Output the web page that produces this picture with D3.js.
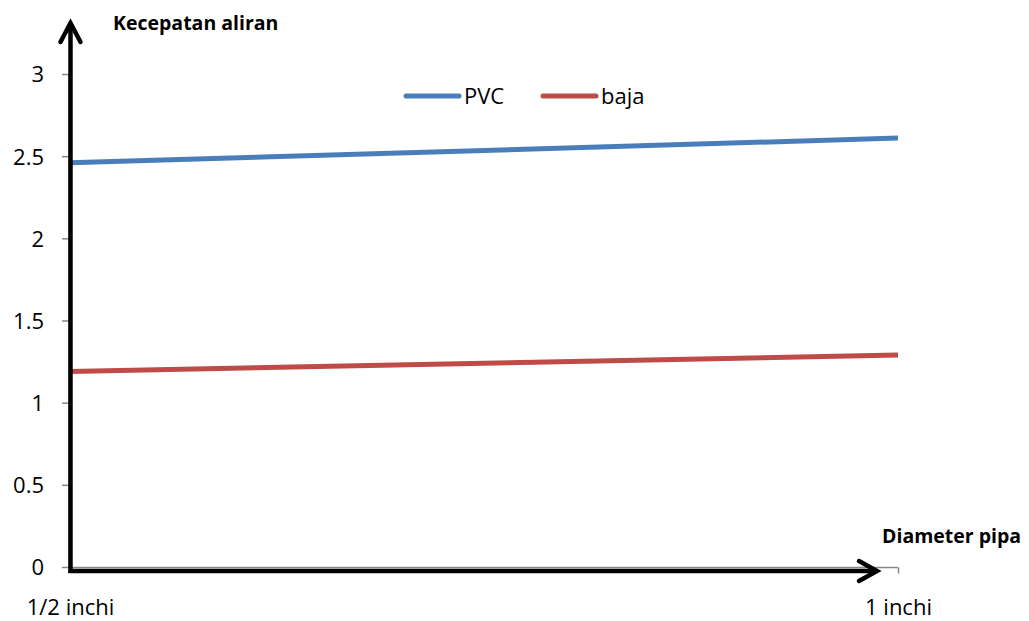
<!DOCTYPE html>
<html><head><meta charset="utf-8">
<script src="https://cdn.jsdelivr.net/npm/d3@7"></script>
<style>body{margin:0;background:#fff}svg{display:block}</style>
</head><body>
<svg id="c" width="1029" height="621"></svg>
<script>
const categories = ["1/2 inchi", "1 inchi"];
const pvcValues = [2.46, 2.61];
const bajaValues = [1.19, 1.29];
const yTicks = [0, 0.5, 1, 1.5, 2, 2.5, 3];
const seriesNames = ["PVC", "baja"];
const seriesColors = ["#4a7ebb", "#be4b48"];

const svg = d3.select("#c");
const font = "'Open Sans', sans-serif";
const x = d3.scalePoint().domain(categories).range([70, 898]);
const y = d3.scaleLinear().domain([0, 3]).range([567, 74]);

// gray axes
const yAxis = svg.append("g").attr("transform", "translate(69,0)")
  .call(d3.axisLeft(y).tickValues(yTicks).tickSize(7).tickPadding(18).tickFormat(d3.format("")));
yAxis.select(".domain").attr("stroke", "#868686").attr("stroke-width", 1.5).attr("d", "M0,567V74");
yAxis.selectAll(".tick line").attr("stroke", "#868686").attr("stroke-width", 1.5);
yAxis.selectAll(".tick text").attr("font-family", font).attr("font-size", 22).attr("fill", "#000")
  .attr("x", -25).attr("dy", "0.36em");

const xAxis = svg.append("g").attr("transform", "translate(0,567.5)")
  .call(d3.axisBottom(x).tickSize(6).tickPadding(24));
xAxis.select(".domain").attr("stroke", "#868686").attr("stroke-width", 1.5).attr("d", "M69,0H898");
xAxis.selectAll(".tick line").attr("stroke", "#868686").attr("stroke-width", 1.5)
  .attr("display", (d, i) => i === 0 ? "none" : null);
xAxis.selectAll(".tick text").attr("font-family", font).attr("font-size", 22).attr("fill", "#000")
  .attr("y", 47).attr("dy", 0);

// series lines
const line = d3.line().x((d, i) => x(categories[i])).y(d => y(d));
[pvcValues, bajaValues].forEach((vals, i) => {
  svg.append("path").datum(vals).attr("d", line).attr("fill", "none")
    .attr("stroke", seriesColors[i]).attr("stroke-width", 5);
});

// black arrows
svg.append("path").attr("d", "M70.5,573V23").attr("stroke", "#000").attr("stroke-width", 4.5).attr("fill", "none");
svg.append("path").attr("d", "M60.5,42L70.5,23L80.5,42").attr("stroke", "#000").attr("stroke-width", 4.5)
  .attr("fill", "none").attr("stroke-linecap", "round").attr("stroke-linejoin", "miter");
svg.append("path").attr("d", "M68.5,571H877").attr("stroke", "#000").attr("stroke-width", 4.5).attr("fill", "none");
svg.append("path").attr("d", "M859,561L877,571L859,581").attr("stroke", "#000").attr("stroke-width", 4.5)
  .attr("fill", "none").attr("stroke-linecap", "round");

// axis titles
svg.append("text").attr("x", 113).attr("y", 30).attr("font-family", font).attr("font-weight", "bold")
  .attr("font-size", 19.5).text("Kecepatan aliran");
svg.append("text").attr("x", 882).attr("y", 543).attr("font-family", font).attr("font-weight", "bold")
  .attr("font-size", 19.5).text("Diameter pipa");

// legend
const legX = [406, 543];
seriesNames.forEach((n, i) => {
  const g = svg.append("g").attr("transform", `translate(${legX[i]},96)`);
  g.append("line").attr("x1", 0).attr("x2", 53).attr("stroke", seriesColors[i]).attr("stroke-width", 5).attr("stroke-linecap", "round");
  g.append("text").attr("x", 58).attr("y", 8).attr("font-family", font).attr("font-size", 22).text(n);
});
</script>
</body></html>
